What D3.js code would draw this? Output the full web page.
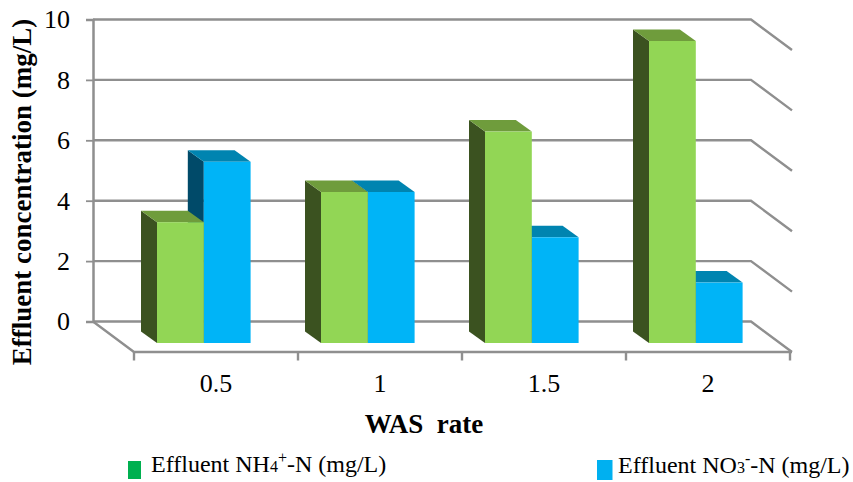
<!DOCTYPE html>
<html>
<head>
<meta charset="utf-8">
<script src="https://cdn.jsdelivr.net/npm/d3@7"></script>
<style>
  html, body { margin: 0; padding: 0; background: #fff; }
  text { font-family: "Liberation Serif", serif; fill: #000; }
</style>
</head>
<body>
<svg id="chart" width="853" height="482"></svg>
<script>
const categories = ['0.5', '1', '1.5', '2'];
const nh4Values = [4, 5, 7, 10];
const no3Values = [6, 5, 3.5, 2];
const yTicks = [0, 2, 4, 6, 8, 10];

const svg = d3.select('#chart');
const gridColor = '#8f8f8f';

// 3d projection offsets
const depthX = 41, depthY = 30.5;
const barDepthX = 16, barDepthY = 11.5;

const x = d3.scaleBand().domain(categories).range([134, 790]);
const yWall = d3.scaleLinear().domain([0, 10]).range([321.5, 19.5]);
const yFront = d3.scaleLinear().domain([0, 10]).range([343, 41]);

const floorRight = x.range()[1] + 2;
const wallLeft = x.range()[0] - depthX;
const wallRight = floorRight - depthX;
const floorY = yWall(0) + depthY;

// gridlines with the side wall going forward
const line = d3.line();
const grid = svg.append('g').attr('fill', 'none').attr('stroke', gridColor).attr('stroke-width', 2.4);
grid.selectAll('path')
  .data(yTicks)
  .enter()
  .append('path')
  .attr('d', d => line([[wallLeft, yWall(d)], [wallRight, yWall(d)], [floorRight, yWall(d) + depthY]]));

// floor and category ticks
grid.append('path').attr('d', line([[wallLeft, yWall(0)], [x.range()[0], floorY], [floorRight, floorY]]));
grid.selectAll('line.cat')
  .data(d3.range(categories.length + 1))
  .enter()
  .append('line')
  .attr('class', 'cat')
  .attr('x1', i => x.range()[0] + i * x.step())
  .attr('x2', i => x.range()[0] + i * x.step())
  .attr('y1', floorY)
  .attr('y2', floorY + 8.5);

// y axis on the back wall
const yAxis = svg.append('g')
  .attr('transform', 'translate(' + wallLeft + ',0)')
  .call(d3.axisLeft(yWall).tickValues(yTicks).tickSize(7).tickPadding(16).tickFormat(d3.format('d')));
yAxis.select('.domain').attr('stroke', gridColor).attr('stroke-width', 2.5);
yAxis.selectAll('.tick line').attr('stroke', gridColor).attr('stroke-width', 1.8);
yAxis.selectAll('.tick text')
  .attr('font-family', '"Liberation Serif", serif')
  .attr('font-size', 26)
  .attr('fill', '#000');

// x axis labels
svg.append('g')
  .selectAll('text')
  .data(categories)
  .enter()
  .append('text')
  .attr('x', d => x(d) + x.bandwidth() / 2)
  .attr('y', 392)
  .attr('text-anchor', 'middle')
  .attr('font-size', 26)
  .text(d => d);

// bars
const barW = 46.8;
const barOffset = 23;
function drawBar(g, left, value, front, side, top) {
  const yt = yFront(value), yb = yFront(0), r = left + barW;
  const poly = pts => g.append('polygon').attr('points', pts.join(' '));
  poly([[left, yt], [left - barDepthX, yt - barDepthY], [left - barDepthX, yb - barDepthY], [left, yb]])
    .attr('fill', side);
  poly([[left, yt], [left - barDepthX, yt - barDepthY], [r - barDepthX, yt - barDepthY], [r, yt]])
    .attr('fill', top);
  g.append('rect')
    .attr('x', left)
    .attr('y', yt)
    .attr('width', barW)
    .attr('height', yb - yt)
    .attr('fill', front);
}

categories.forEach((c, i) => {
  const g = svg.append('g');
  const left = x(c) + barOffset;
  // blue first, the green front face sits over its side
  drawBar(g, left + barW, no3Values[i], '#00b4f7', '#004a69', '#0084b0');
  drawBar(g, left, nh4Values[i], '#92d655', '#3b5220', '#6f9c3c');
});

// axis titles
svg.append('text')
  .attr('transform', 'translate(31,192) rotate(-90)')
  .attr('text-anchor', 'middle')
  .attr('font-size', 27)
  .attr('font-weight', 'bold')
  .text('Effluent concentration (mg/L)');

svg.append('text')
  .attr('x', 424)
  .attr('y', 433)
  .attr('text-anchor', 'middle')
  .attr('font-size', 27)
  .attr('font-weight', 'bold')
  .style('white-space', 'pre')
  .text('WAS  rate');

// legend
function legendItem(bx, by, bw, bh, color, tx, ty, ion, sub, sup) {
  svg.append('rect').attr('x', bx).attr('y', by).attr('width', bw).attr('height', bh).attr('fill', color);
  const t = svg.append('text').attr('x', tx).attr('y', ty).attr('font-size', 24);
  t.append('tspan').text('Effluent ' + ion);
  t.append('tspan').attr('font-size', 16).text(sub);
  t.append('tspan').attr('font-size', 16).attr('dy', -9).text(sup);
  t.append('tspan').attr('dy', 9).text('-N (mg/L)');
}
legendItem(128, 461, 13, 18, '#00b050', 151, 472, 'NH', '4', '+');
legendItem(597, 460, 15.5, 20, '#00b0f0', 618, 473, 'NO', '3', '-');
</script>
</body>
</html>
